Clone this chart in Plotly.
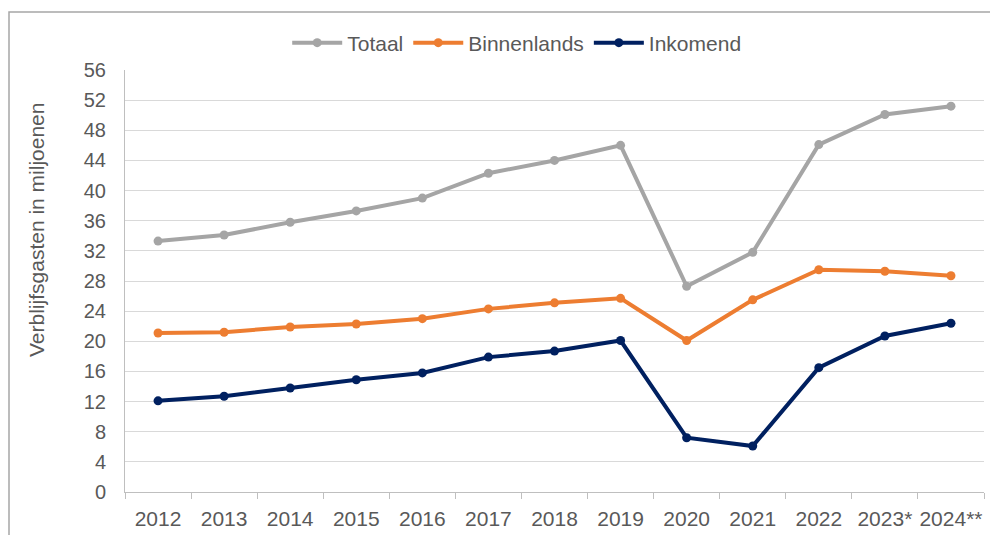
import plotly.graph_objects as go

years = ["2012", "2013", "2014", "2015", "2016", "2017", "2018", "2019",
         "2020", "2021", "2022", "2023*", "2024**"]
totaal = [33.3, 34.1, 35.8, 37.3, 39.0, 42.3, 44.0, 46.0, 27.3, 31.8, 46.1, 50.1, 51.2]
binnenlands = [21.1, 21.2, 21.9, 22.3, 23.0, 24.3, 25.1, 25.7, 20.1, 25.5, 29.5, 29.3, 28.7]
inkomend = [12.1, 12.7, 13.8, 14.9, 15.8, 17.9, 18.7, 20.1, 7.2, 6.1, 16.5, 20.7, 22.4]

series = [("Totaal", totaal, "#a5a5a5"),
          ("Binnenlands", binnenlands, "#ed7d31"),
          ("Inkomend", inkomend, "#002060")]

fig = go.Figure()
for name, vals, col in series:
    fig.add_trace(go.Scatter(
        x=years, y=vals, name=name, mode="lines+markers",
        line=dict(color=col, width=4),
        marker=dict(color=col, size=9),
    ))

font_col = "#595959"
W, H = 990, 527
L, R, T, B = 117, 14, 62, 43
pw, ph = W - L - R, H - T - B

fig.update_layout(
    width=W, height=H,
    margin=dict(l=L, r=R, t=T, b=B, autoexpand=False),
    paper_bgcolor="white", plot_bgcolor="white",
    font=dict(family="Liberation Sans, Arial, sans-serif", size=21, color=font_col),
    showlegend=True,
    legend=dict(orientation="h", x=0.456, xanchor="center", y=1.064, yanchor="middle",
                font=dict(size=21, color=font_col), itemwidth=50,
                traceorder="normal", bgcolor="rgba(0,0,0,0)"),
    xaxis=dict(type="category", showgrid=False, showline=True, linecolor="#bfbfbf",
               linewidth=1, ticks="outside", tickson="boundaries", ticklen=6,
               tickcolor="#bfbfbf", tickfont=dict(size=21, color=font_col),
               ticklabelstandoff=8,
               tickangle=0, automargin=False, range=[-0.5, 12.5]),
    yaxis=dict(range=[0, 56], dtick=4, showgrid=True, gridcolor="#d9d9d9", gridwidth=1,
               showline=True, linecolor="#bfbfbf", linewidth=1, zeroline=False,
               ticks="", automargin=False, ticklabelstandoff=14,
               tickfont=dict(size=20, color=font_col)),
    shapes=[dict(type="rect", xref="paper", yref="paper",
                 x0=(1 - L) / pw, x1=1.2, y0=-0.3, y1=(ph + T - 4) / ph,
                 line=dict(color="#a6a6a6", width=1.5), fillcolor="rgba(0,0,0,0)",
                 layer="below")],
    annotations=[dict(text="Verblijfsgasten in miljoenen", textangle=-90,
                      xref="paper", yref="paper",
                      x=(28 - L) / pw, y=(ph + T - 222) / ph,
                      xanchor="center", yanchor="middle", showarrow=False,
                      font=dict(size=21, color=font_col))],
)

fig.write_html("out.html")
